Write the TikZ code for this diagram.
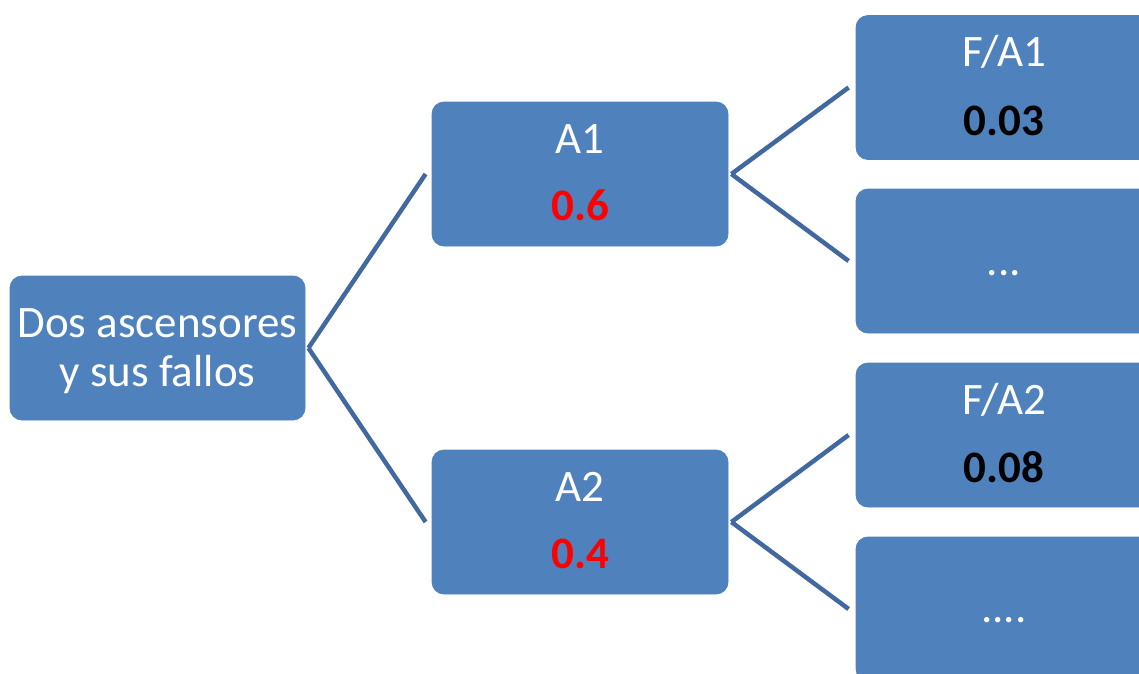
\documentclass[tikz,border=0pt]{standalone}
\usepackage{fontspec}
\setmainfont{Carlito}
\definecolor{boxblue}{HTML}{4F81BD}
\definecolor{lineblue}{HTML}{4169A0}
\definecolor{probred}{HTML}{FF0000}
\begin{document}
\begin{tikzpicture}[x=1pt,y=-1pt,
  treebox/.style={draw=boxblue, line width=0.8pt, fill=boxblue, rounded corners=12pt, minimum width=296pt, minimum height=144pt, inner sep=0pt},
  lbl/.style={anchor=base, inner sep=0pt, font=\fontsize{45}{50}\selectfont, text=white},
  prob/.style={anchor=base, inner sep=0pt, font=\fontsize{45}{50}\selectfont\bfseries},
  branch/.style={draw=lineblue, line width=4.5pt}]
\useasboundingbox (0,0) rectangle (1139,673);
\clip (0,0) rectangle (1139,673);
% boxes
\node[treebox, minimum width=295pt] (root) at (157.5,348) {};
\node[treebox] (a1) at (580,174) {};
\node[treebox] (a2) at (580,522) {};
\node[treebox] (fa1) at (1004,87.5) {};
\node[treebox] (o1) at (1004,261) {};
\node[treebox] (fa2) at (1004,435) {};
\node[treebox] (o2) at (1004,609) {};
% texts
\node[lbl] (rootl1) at (157.5,337) {Dos ascensores};
\node[lbl] (rootl2) at (157.5,386) {y sus fallos};
\node[lbl] (a1l) at (580,153) {A1};
\node[prob, text=probred] (a1p) at (580,220) {0.6};
\node[lbl] (a2l) at (580,501) {A2};
\node[prob, text=probred] (a2p) at (580,568) {0.4};
\node[lbl] (fa1l) at (1004,66) {F/A1};
\node[prob, text=black] (fa1p) at (1004,135) {0.03};
\node[lbl] (o1l) at (1004,275) {...};
\node[lbl] (fa2l) at (1004,414) {F/A2};
\node[prob, text=black] (fa2p) at (1004,482) {0.08};
\node[lbl] (o2l) at (1004,622) {....};
% connectors
\draw[branch] ([xshift=3pt]root.east) -- ([xshift=-6pt]a1.west);
\draw[branch] ([xshift=3pt]root.east) -- ([xshift=-6pt]a2.west);
\draw[branch] ([xshift=3pt]a1.east) -- ([xshift=-7pt]fa1.west);
\draw[branch] ([xshift=3pt]a1.east) -- ([xshift=-7pt]o1.west);
\draw[branch] ([xshift=3pt]a2.east) -- ([xshift=-7pt]fa2.west);
\draw[branch] ([xshift=3pt]a2.east) -- ([xshift=-7pt]o2.west);
\end{tikzpicture}
\end{document}
